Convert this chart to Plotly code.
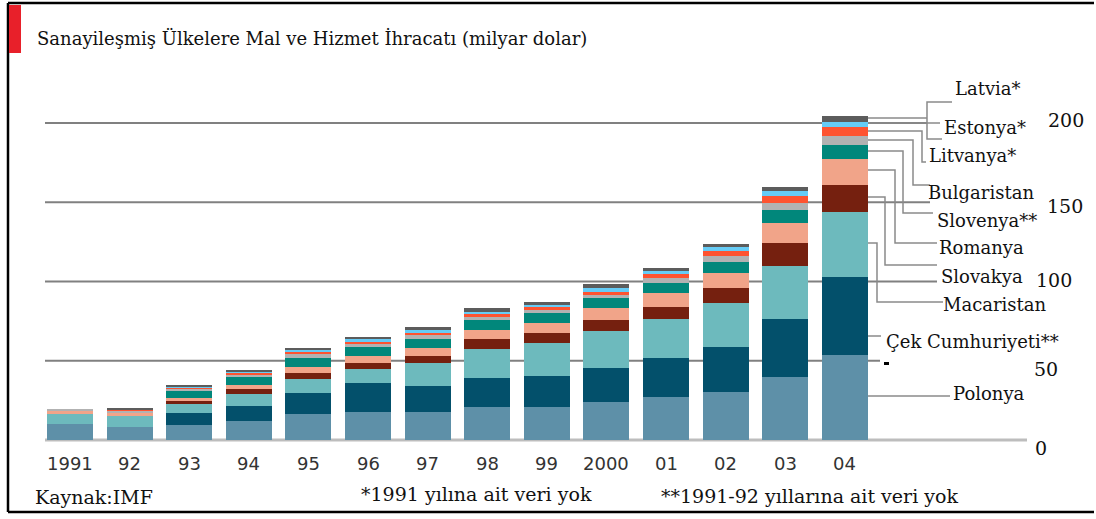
import plotly.graph_objects as go

# ---------------- data (milyar dolar) ----------------
years = ["1991", "92", "93", "94", "95", "96", "97", "98", "99", "2000", "01", "02", "03", "04"]

polonya     = [10.1, 8.0, 9.5, 12.0, 16.2, 17.9, 17.9, 21.0, 21.0, 24.2, 26.9, 30.5, 40.0, 53.6]
cek         = [0.0, 0.0, 7.4, 9.7, 13.2, 17.9, 16.2, 18.3, 19.6, 21.5, 24.6, 28.4, 36.1, 49.0]
macaristan  = [6.3, 7.2, 5.7, 7.2, 8.8, 8.8, 14.3, 17.9, 20.4, 23.1, 24.6, 27.3, 33.9, 41.4]
slovakya    = [0.0, 0.0, 2.1, 3.4, 3.8, 4.2, 4.6, 6.3, 6.3, 6.9, 8.0, 9.5, 14.1, 16.7]
romanya     = [2.1, 2.1, 1.7, 2.5, 4.0, 4.2, 5.3, 5.9, 6.3, 7.4, 8.4, 9.9, 12.6, 16.4]
slovenya    = [0.0, 0.0, 4.6, 5.0, 5.9, 5.5, 5.7, 6.3, 6.3, 6.3, 6.3, 6.9, 8.4, 9.0]
bulgaristan = [0.8, 1.2, 1.3, 1.7, 2.1, 2.1, 2.1, 2.1, 2.1, 2.1, 3.2, 3.6, 4.2, 5.7]
litvanya    = [0.0, 0.5, 0.8, 0.8, 1.3, 1.5, 1.7, 1.7, 1.7, 1.9, 2.7, 2.9, 4.6, 5.5]
estonya     = [0.0, 0.4, 0.6, 0.8, 1.5, 1.5, 1.7, 1.5, 1.7, 2.3, 1.9, 2.6, 3.2, 3.3]
latvia      = [0.0, 0.5, 1.1, 0.8, 1.5, 1.3, 1.5, 2.1, 1.9, 2.7, 2.1, 2.1, 2.7, 3.8]

series_names = ["Polonya", "Çek Cumhuriyeti**", "Macaristan", "Slovakya", "Romanya",
                "Slovenya**", "Bulgaristan", "Litvanya*", "Estonya*", "Latvia*"]
series_values = [polonya, cek, macaristan, slovakya, romanya,
                 slovenya, bulgaristan, litvanya, estonya, latvia]
series_colors = ["#5e90a8", "#03506b", "#6dbabd", "#75200f", "#f1a489",
                 "#01877b", "#b2b2b2", "#fe5330", "#66ccf6", "#5c5c5c"]

ytick_vals = [0, 50, 100, 150, 200]

title_text = "Sanayileşmiş Ülkelere Mal ve Hizmet İhracatı (milyar dolar)"
source_text = "Kaynak:IMF"
note1 = "*1991 yılına ait veri yok"
note2 = "**1991-92 yıllarına ait veri yok"

# ---------------- layout helpers ----------------
W, H = 1096, 519
def px(x):
    return x / W
def py(y):
    return 1 - y / H

SERIF = "DejaVu Serif"
SANS = "DejaVu Sans"

fig = go.Figure()
for name, vals, col in zip(series_names, series_values, series_colors):
    fig.add_trace(go.Bar(x=years, y=vals, name=name, marker=dict(color=col, line=dict(width=0)),
                         width=0.77, showlegend=False))

shapes = []
# frame + red marker
shapes.append(dict(type="line", xref="paper", yref="paper", x0=px(8), x1=px(1094), y0=py(3), y1=py(3),
                   line=dict(color="#000", width=2.5)))
shapes.append(dict(type="line", xref="paper", yref="paper", x0=px(8), x1=px(8), y0=py(3), y1=py(512),
                   line=dict(color="#000", width=2.5)))
shapes.append(dict(type="line", xref="paper", yref="paper", x0=px(8), x1=px(1094), y0=py(512), y1=py(512),
                   line=dict(color="#000", width=2.5)))
shapes.append(dict(type="rect", xref="paper", yref="paper", x0=px(9), x1=px(21), y0=py(5), y1=py(53),
                   fillcolor="#e8202a", line=dict(width=0)))

# grid lines (value-referenced), each with its own right end as in the original
grid_right = {200: 927, 150: 930, 100: 937, 50: 880}
for v in [50, 100, 150, 200]:
    shapes.append(dict(type="line", xref="paper", yref="y", x0=px(45), x1=px(grid_right[v]), y0=v, y1=v,
                       line=dict(color="#808080", width=2), layer="below"))
shapes.append(dict(type="line", xref="paper", yref="y", x0=px(45), x1=px(1027), y0=0, y1=0,
                   line=dict(color="#bdbdbd", width=3), layer="below"))

# leader lines (pixel polylines)
leaders = [
    [(868, 118), (927, 118)],
    [(952, 102), (927, 102), (927, 139), (942, 139)],
    [(868, 123), (940, 123)],
    [(868, 131), (922, 131), (922, 162), (926, 162)],
    [(868, 140), (913, 140), (913, 185), (930, 185)],
    [(868, 151), (903, 151), (903, 213), (933, 213)],
    [(868, 170), (895, 170), (895, 243), (937, 243)],
    [(868, 197), (885, 197), (885, 265), (937, 265)],
    [(868, 243), (877, 243), (877, 302), (943, 302)],
    [(868, 336), (881, 336)],
    [(868, 396), (950, 396)],
]
for pts in leaders:
    path = "M " + " L ".join(f"{px(x):.5f},{py(y):.5f}" for x, y in pts)
    shapes.append(dict(type="path", xref="paper", yref="paper", path=path,
                       line=dict(color="#8a8a8a", width=1.5)))
shapes.append(dict(type="rect", xref="paper", yref="paper", x0=px(884), x1=px(889), y0=py(365), y1=py(362),
                   fillcolor="#000", line=dict(width=0)))

annotations = []
annotations.append(dict(text=title_text, xref="paper", yref="paper", x=px(35), y=py(38),
                        xanchor="left", yanchor="middle", showarrow=False,
                        font=dict(family=SERIF, size=18, color="#111")))
# x tick labels (placed by category index on the x axis)
for i, yr in enumerate(years):
    annotations.append(dict(text=yr, xref="x", yref="paper", x=i, y=py(463), xanchor="center",
                            yanchor="middle", showarrow=False,
                            font=dict(family=SANS, size=18, color="#333")))
# y tick labels (placed at their values, offsets as in the original)
ytick_pos = {200: (1066, 3), 150: (1065, -4), 100: (1054, 2), 50: (1046, -8), 0: (1041, -8)}
for v in ytick_vals:
    xp, ys = ytick_pos[v]
    annotations.append(dict(text=str(v), xref="paper", yref="y", x=px(xp), y=v, yshift=ys,
                            xanchor="center", yanchor="middle", showarrow=False,
                            font=dict(family=SERIF, size=19, color="#111")))
# series labels
label_pos = {
    "Latvia*": (988, 88), "Estonya*": (985, 127), "Litvanya*": (972, 155),
    "Bulgaristan": (981, 192), "Slovenya**": (987, 220), "Romanya": (981, 247),
    "Slovakya": (982, 276), "Macaristan": (995, 304), "Çek Cumhuriyeti**": (972, 341),
    "Polonya": (989, 393),
}
for name in series_names:
    xp, yp = label_pos[name]
    annotations.append(dict(text=name, xref="paper", yref="paper", x=px(xp), y=py(yp),
                            xanchor="center", yanchor="middle", showarrow=False,
                            font=dict(family=SERIF, size=18, color="#111")))
# footnotes
for txt, (xp, yp) in [(source_text, (94, 497)), (note1, (476, 494)), (note2, (809, 496))]:
    annotations.append(dict(text=txt, xref="paper", yref="paper", x=px(xp), y=py(yp),
                            xanchor="center", yanchor="middle", showarrow=False,
                            font=dict(family=SERIF, size=19, color="#111")))

fig.update_layout(
    width=W, height=H, barmode="stack", bargap=0.2,
    margin=dict(l=0, r=0, t=0, b=0, pad=0),
    paper_bgcolor="#ffffff", plot_bgcolor="#ffffff",
    xaxis=dict(type="category", range=[-70 / 59.6, (W - 70) / 59.6], visible=False, fixedrange=True),
    yaxis=dict(range=[-(H - 440) / 1.585, 440 / 1.585], visible=False, fixedrange=True),
    shapes=shapes, annotations=annotations,
)

fig.write_html("out.html", config={"displayModeBar": False},
               post_script="document.body.style.margin='0';document.body.style.overflow='hidden';")
